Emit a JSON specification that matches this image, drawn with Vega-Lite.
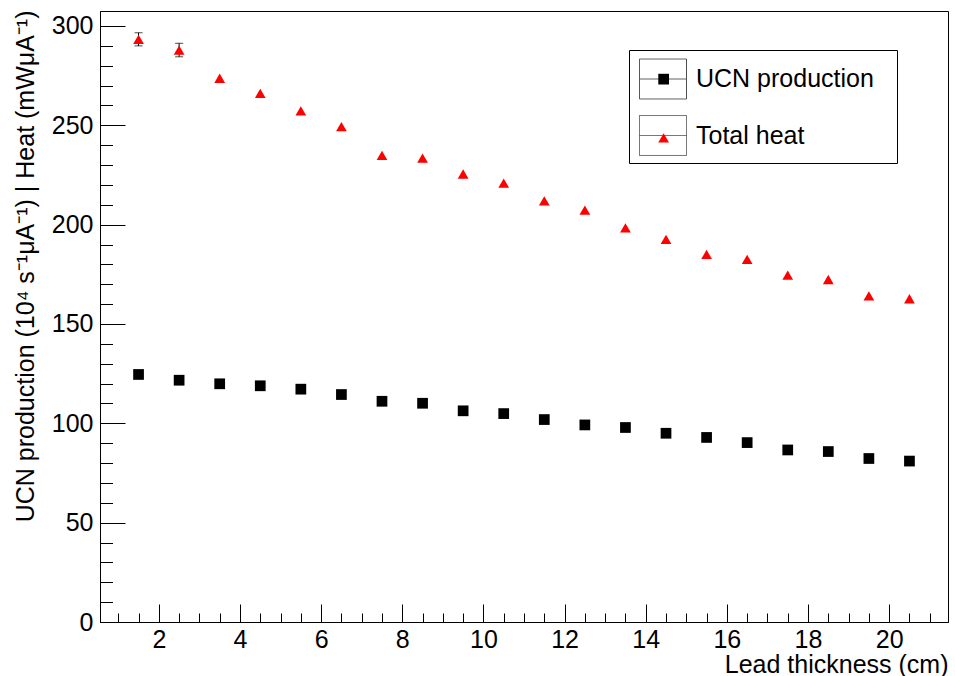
{
  "$schema": "https://vega.github.io/schema/vega-lite/v6.json",
  "autosize": "none",
  "width": 848,
  "height": 611,
  "padding": {"left": 100, "top": 11, "right": 7, "bottom": 54},
  "background": "white",
  "config": {
    "font": "Liberation Sans",
    "view": {"stroke": "black", "strokeWidth": 1},
    "axis": {
      "grid": false,
      "domainColor": "black",
      "domainWidth": 1,
      "tickColor": "black",
      "tickWidth": 1,
      "labelColor": "black",
      "labelFont": "Liberation Sans",
      "labelFontSize": 25,
      "titleFont": "Liberation Sans",
      "titleFontSize": 25,
      "titleFontWeight": "normal",
      "titleColor": "black"
    }
  },
  "datasets": {
    "pts": [
      {"x": 1.5, "series": "UCN production", "v": 124.6},
      {"x": 2.5, "series": "UCN production", "v": 121.7},
      {"x": 3.5, "series": "UCN production", "v": 119.9},
      {"x": 4.5, "series": "UCN production", "v": 118.9},
      {"x": 5.5, "series": "UCN production", "v": 117.2},
      {"x": 6.5, "series": "UCN production", "v": 114.5},
      {"x": 7.5, "series": "UCN production", "v": 111.1},
      {"x": 8.5, "series": "UCN production", "v": 110.1},
      {"x": 9.5, "series": "UCN production", "v": 106.3},
      {"x": 10.5, "series": "UCN production", "v": 104.9},
      {"x": 11.5, "series": "UCN production", "v": 101.9},
      {"x": 12.5, "series": "UCN production", "v": 99.2},
      {"x": 13.5, "series": "UCN production", "v": 97.9},
      {"x": 14.5, "series": "UCN production", "v": 95.0},
      {"x": 15.5, "series": "UCN production", "v": 92.9},
      {"x": 16.5, "series": "UCN production", "v": 90.3},
      {"x": 17.5, "series": "UCN production", "v": 86.6},
      {"x": 18.5, "series": "UCN production", "v": 85.8},
      {"x": 19.5, "series": "UCN production", "v": 82.3},
      {"x": 20.5, "series": "UCN production", "v": 81.0},
      {"x": 1.5, "series": "Total heat", "v": 293.3},
      {"x": 2.5, "series": "Total heat", "v": 287.9},
      {"x": 3.5, "series": "Total heat", "v": 273.7},
      {"x": 4.5, "series": "Total heat", "v": 266.1},
      {"x": 5.5, "series": "Total heat", "v": 257.3},
      {"x": 6.5, "series": "Total heat", "v": 249.3},
      {"x": 7.5, "series": "Total heat", "v": 234.9},
      {"x": 8.5, "series": "Total heat", "v": 233.5},
      {"x": 9.5, "series": "Total heat", "v": 225.5},
      {"x": 10.5, "series": "Total heat", "v": 220.9},
      {"x": 11.5, "series": "Total heat", "v": 212.0},
      {"x": 12.5, "series": "Total heat", "v": 207.3},
      {"x": 13.5, "series": "Total heat", "v": 198.4},
      {"x": 14.5, "series": "Total heat", "v": 192.6},
      {"x": 15.5, "series": "Total heat", "v": 185.0},
      {"x": 16.5, "series": "Total heat", "v": 182.5},
      {"x": 17.5, "series": "Total heat", "v": 174.6},
      {"x": 18.5, "series": "Total heat", "v": 172.4},
      {"x": 19.5, "series": "Total heat", "v": 164.2},
      {"x": 20.5, "series": "Total heat", "v": 162.7}
    ],
    "err": [
      {"x": 1.5, "lo": 290.0, "hi": 296.6},
      {"x": 2.5, "lo": 284.5, "hi": 291.3}
    ]
  },
  "resolve": {"axis": {"x": "independent", "y": "independent"}},
  "layer": [
    {
      "data": {"name": "err"},
      "mark": {"type": "rule", "color": "black", "strokeWidth": 1},
      "encoding": {
        "x": {"field": "x", "type": "quantitative", "axis": null, "scale": {"domain": [0.55, 21.45], "nice": false, "zero": false}},
        "y": {"field": "lo", "type": "quantitative", "axis": null, "scale": {"domain": [0, 307.55], "nice": false}},
        "y2": {"field": "hi"}
      }
    },
    {
      "data": {"name": "err"},
      "mark": {"type": "tick", "orient": "horizontal", "color": "black", "size": 8, "thickness": 1},
      "encoding": {
        "x": {"field": "x", "type": "quantitative", "axis": null},
        "y": {"field": "hi", "type": "quantitative", "axis": null}
      }
    },
    {
      "data": {"name": "err"},
      "mark": {"type": "tick", "orient": "horizontal", "color": "black", "size": 8, "thickness": 1},
      "encoding": {
        "x": {"field": "x", "type": "quantitative", "axis": null},
        "y": {"field": "lo", "type": "quantitative", "axis": null}
      }
    },
    {
      "data": {"name": "pts"},
      "transform": [{"filter": "false"}],
      "mark": {"type": "point", "color": "black", "filled": false, "strokeWidth": 1},
      "encoding": {
        "x": {"field": "x", "type": "quantitative", "axis": {"orient": "bottom", "values": [1, 1.5, 2, 2.5, 3, 3.5, 4, 4.5, 5, 5.5, 6, 6.5, 7, 7.5, 8, 8.5, 9, 9.5, 10, 10.5, 11, 11.5, 12, 12.5, 13, 13.5, 14, 14.5, 15, 15.5, 16, 16.5, 17, 17.5, 18, 18.5, 19, 19.5, 20, 20.5, 21], "tickSize": -9, "labels": false, "domain": false, "title": null}},
        "y": {"field": "v", "type": "quantitative", "axis": {"orient": "left", "values": [0, 10, 20, 30, 40, 50, 60, 70, 80, 90, 100, 110, 120, 130, 140, 150, 160, 170, 180, 190, 200, 210, 220, 230, 240, 250, 260, 270, 280, 290, 300], "tickSize": -12.5, "labels": false, "domain": false, "title": null}},
        "strokeDash": {
          "field": "series", "type": "nominal",
          "scale": {"domain": ["UCN production", "Total heat"], "range": [[1, 0], [1, 0]]},
          "legend": {
            "orient": "none", "legendX": 529, "legendY": 39,
            "title": null,
            "padding": 5,
            "strokeColor": "black", "fillColor": "white",
            "symbolType": "M-1,-0.85H1V0.85H-1ZM-1,0H1",
            "symbolSize": 2209,
            "symbolOffset": 5,
            "symbolFillColor": "transparent",
            "symbolStrokeColor": "black",
            "symbolStrokeWidth": 1,
            "rowPadding": 10.5,
            "labelOffset": 9,
            "labelLimit": 500,
            "labelFont": "Liberation Sans",
            "labelFontSize": 25,
            "labelColor": "black",
            "labelExpr": "datum.label + '\u2800'"
          }
        }
      }
    },
    {
      "data": {"name": "pts"},
      "mark": {"type": "point", "filled": true, "size": 115, "opacity": 1, "strokeWidth": 0},
      "encoding": {
        "x": {"field": "x", "type": "quantitative", "axis": {"orient": "bottom", "values": [2, 4, 6, 8, 10, 12, 14, 16, 18, 20], "tickSize": -18, "labelPadding": 23, "title": "Lead thickness (cm)", "titleX": 848, "titleY": 50, "titleAlign": "right", "titleAnchor": "end", "titleBaseline": "alphabetic", "titleAngle": 0}},
        "y": {"field": "v", "type": "quantitative", "axis": {"orient": "left", "values": [0, 50, 100, 150, 200, 250, 300], "tickSize": -25, "labelPadding": 32, "title": "UCN production (10⁴ s⁻¹μA⁻¹) | Heat (mWμA⁻¹)", "titleX": -67, "titleY": -1, "titleAngle": -90, "titleAlign": "right", "titleAnchor": "end", "titleBaseline": "alphabetic"}},
        "color": {
          "field": "series", "type": "nominal", "sort": "descending",
          "scale": {"range": ["black", "#ff0000"]},
          "legend": {
            "orient": "none", "legendX": 557.15, "legendY": 61.65,
            "title": null, "padding": 0,
            "symbolSize": 115,
            "rowPadding": 46.8,
            "labelFontSize": 1,
            "labelOpacity": 0,
            "labelOffset": 0
          }
        },
        "shape": {
          "field": "series", "type": "nominal", "sort": "descending",
          "scale": {"range": ["square", "triangle-up"]}
        }
      }
    }
  ]
}
